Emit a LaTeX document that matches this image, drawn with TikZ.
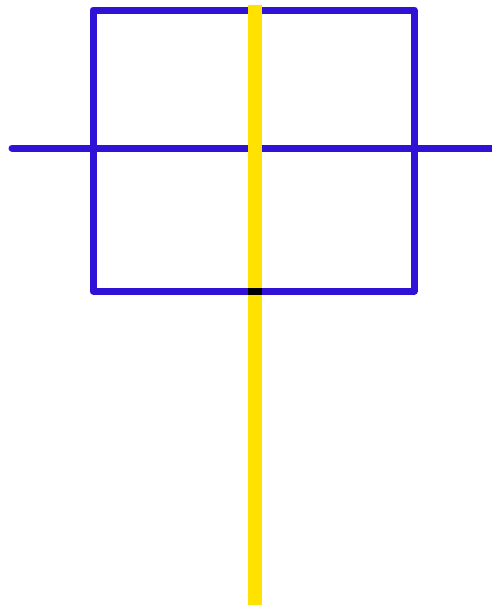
\documentclass[tikz,border=0pt]{standalone}
\usepackage{xcolor}
\definecolor{frameblue}{RGB}{48,18,214}
\definecolor{poleyellow}{RGB}{255,226,0}
\begin{document}
\begin{tikzpicture}[x=1pt, y=-1pt,
  blueline/.style={frameblue, line width=7pt, line cap=round, line join=round},
  yellowline/.style={poleyellow, line width=14pt}]
\useasboundingbox[fill=white] (0,0) rectangle (492,608);
% frame
\draw[blueline] (93,10) rectangle (414,291);
% cross bar
\draw[blueline] (12,148) -- (495,148);
% pole
\draw[yellowline] (255,5) -- (255,605);
% dark joint at the bottom edge
\fill[black] (248,287.5) rectangle (262,294.5);
\end{tikzpicture}
\end{document}
